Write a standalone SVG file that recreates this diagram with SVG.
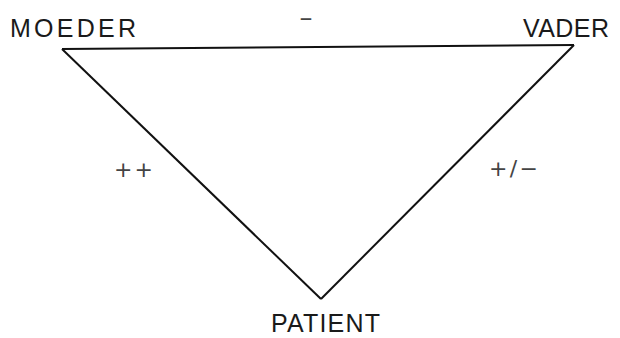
<svg xmlns="http://www.w3.org/2000/svg" width="620" height="338" viewBox="0 0 620 338">
<style>
.lbl{font-family:"Liberation Sans",Arial,sans-serif;font-size:25px;fill:#1a1a1a}
.sgn{font-family:"DejaVu Sans","Liberation Sans",sans-serif;font-size:22px;fill:#444}
.edge{stroke:#111;stroke-width:2;fill:none}
</style>
<rect width="620" height="338" fill="#fff"/>
<g id="connectors">
<path class="edge" d="M62 49 L574 45"/>
<path class="edge" d="M62 49 L321 299"/>
<path class="edge" d="M574 45 L321 299"/>
</g>
<g id="moeder"><text class="lbl" x="10" y="37" textLength="126" lengthAdjust="spacing">MOEDER</text></g>
<g id="vader"><text class="lbl" x="523" y="37" textLength="86" lengthAdjust="spacing">VADER</text></g>
<g id="patient"><text class="lbl" x="271" y="332" textLength="109" lengthAdjust="spacing">PATIENT</text></g>
<g id="edge-labels">
<text class="sgn" x="299" y="26" textLength="14" lengthAdjust="spacingAndGlyphs">−</text>
<text class="sgn" x="114" y="177" textLength="39" lengthAdjust="spacing">++</text>
<text class="sgn" x="489" y="176" textLength="49" lengthAdjust="spacing">+/−</text>
</g>
</svg>
